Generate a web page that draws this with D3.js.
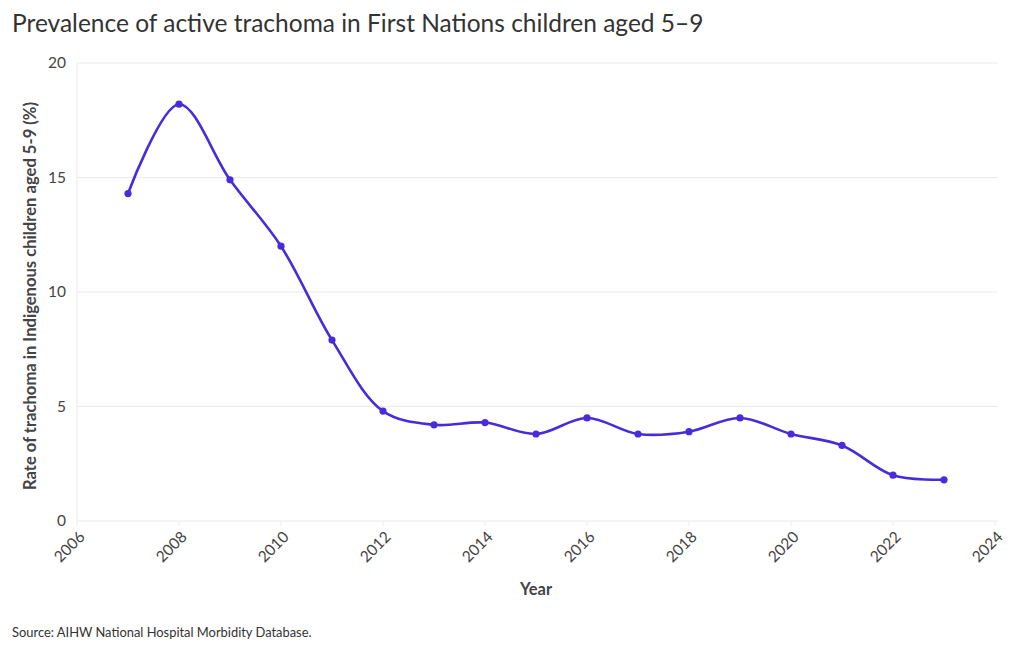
<!DOCTYPE html>
<html>
<head>
<meta charset="utf-8">
<script src="https://cdn.jsdelivr.net/npm/d3@7"></script>
<style>
  body { margin: 0; background: #fff; }
  text { font-family: Lato, "Noto Sans", sans-serif; }
</style>
</head>
<body>
<svg id="chart" width="1020" height="650"></svg>
<script>
const years = [2007, 2008, 2009, 2010, 2011, 2012, 2013, 2014, 2015, 2016, 2017, 2018, 2019, 2020, 2021, 2022, 2023];
const rates = [14.3, 18.2, 14.9, 12.0, 7.9, 4.8, 4.2, 4.3, 3.8, 4.5, 3.8, 3.9, 4.5, 3.8, 3.3, 2.0, 1.8];
const xTicks = [2006, 2008, 2010, 2012, 2014, 2016, 2018, 2020, 2022, 2024];
const yTicks = [0, 5, 10, 15, 20];

const svg = d3.select("#chart");
const margin = { left: 77, right: 25, top: 63, bottom: 129 };

const x = d3.scaleLinear().domain([2006, 2024]).range([margin.left, 995]);
const y = d3.scaleLinear().domain([0, 20]).range([521, margin.top]);

// gridlines
svg.append("g")
  .selectAll("line")
  .data(yTicks)
  .join("line")
  .attr("x1", margin.left).attr("x2", 998)
  .attr("y1", d => y(d)).attr("y2", d => y(d))
  .attr("stroke", "#ebebeb").attr("stroke-width", 1);

svg.append("line")
  .attr("x1", margin.left).attr("x2", margin.left)
  .attr("y1", y(20)).attr("y2", y(0))
  .attr("stroke", "#ebebeb");

// y ticks
svg.append("g")
  .selectAll("text")
  .data(yTicks)
  .join("text")
  .attr("x", margin.left - 11)
  .attr("y", d => y(d) + 5)
  .attr("text-anchor", "end")
  .attr("font-size", 15.5)
  .attr("fill", "#444")
  .text(d => d);

// x ticks
const xt = svg.append("g")
  .selectAll("g")
  .data(xTicks)
  .join("g")
  .attr("transform", d => `translate(${x(d)},${y(0)})`);
xt.append("line").attr("y1", 0).attr("y2", 5).attr("stroke", "#ebebeb");
xt.append("text")
  .attr("transform", "translate(5,13) rotate(-45)")
  .attr("text-anchor", "end")
  .attr("dy", "0.35em")
  .attr("font-size", 15.5)
  .attr("fill", "#444")
  .text(d => d);

// axis titles
svg.append("text")
  .attr("x", x(2015)).attr("y", 595)
  .attr("text-anchor", "middle")
  .attr("font-size", 16.5).attr("font-weight", "bold")
  .attr("fill", "#444")
  .text("Year");

svg.append("text")
  .attr("transform", `translate(36,${(y(0) + y(20)) / 2 + 4}) rotate(-90)`)
  .attr("text-anchor", "middle")
  .attr("font-size", 16.6).attr("font-weight", "bold")
  .attr("fill", "#444")
  .text("Rate of trachoma in Indigenous children aged 5-9 (%)");

// line
const line = d3.line()
  .x((d, i) => x(years[i]))
  .y(d => y(d))
  .curve(d3.curveCatmullRom.alpha(0.5));

svg.append("path")
  .datum(rates)
  .attr("fill", "none")
  .attr("stroke", "#4a2bd9")
  .attr("stroke-width", 2.6)
  .attr("d", line);

svg.append("g")
  .selectAll("circle")
  .data(rates)
  .join("circle")
  .attr("cx", (d, i) => x(years[i]))
  .attr("cy", d => y(d))
  .attr("r", 3.6)
  .attr("fill", "#4a2bd9");

// title + source
svg.append("text")
  .attr("x", 12).attr("y", 32)
  .attr("font-size", 24.5)
  .attr("fill", "#333")
  .text("Prevalence of active trachoma in First Nations children aged 5–9");

svg.append("text")
  .attr("x", 12).attr("y", 637)
  .attr("font-size", 12.9)
  .attr("fill", "#333")
  .text("Source: AIHW National Hospital Morbidity Database.");
</script>
</body>
</html>
